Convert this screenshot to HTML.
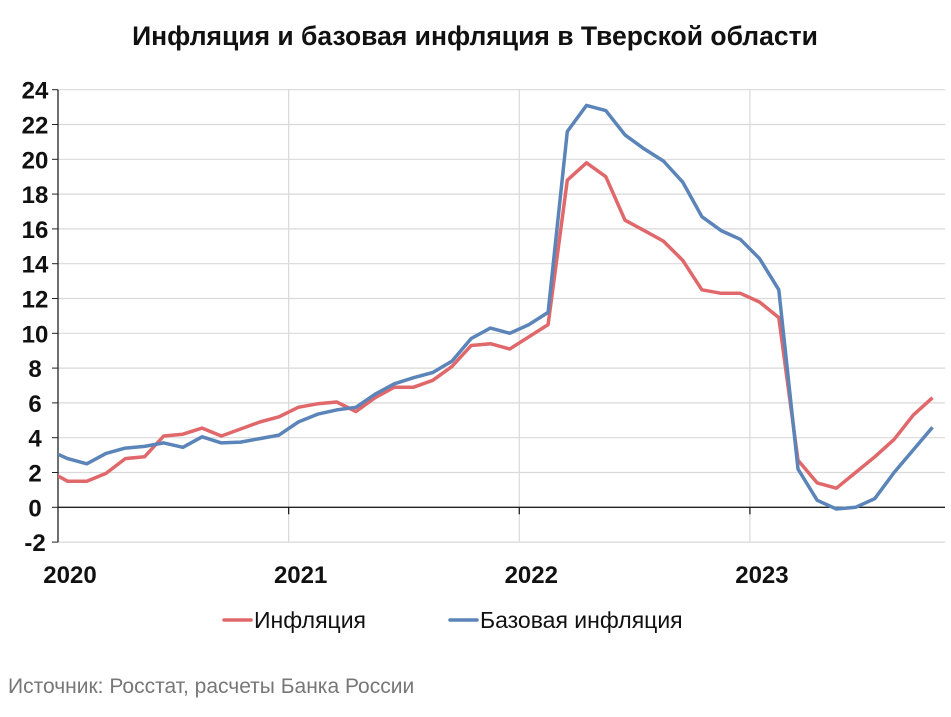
<!DOCTYPE html>
<html><head><meta charset="utf-8"><style>
html,body{margin:0;padding:0;background:#fff;}
body{width:951px;height:712px;overflow:hidden;font-family:"Liberation Sans","Noto Sans CJK SC",sans-serif;}
</style></head><body>
<svg id="chart" width="951" height="712" xmlns="http://www.w3.org/2000/svg" font-family="Liberation Sans, DejaVu Sans, sans-serif">
<text x="475" y="45" text-anchor="middle" font-size="26.5" font-weight="bold" fill="#111">Инфляция и базовая инфляция в Тверской области</text>
<defs><clipPath id="plotclip"><rect x="58" y="80" width="890" height="470"/></clipPath></defs>
<g id="grid"></g>
<g id="axes"></g>
<g id="series" clip-path="url(#plotclip)"></g>
<g>
<line x1="224" y1="620" x2="251" y2="620" stroke="#e0686b" stroke-width="3.5" stroke-linecap="round"/>
<text x="254" y="628" font-size="23" fill="#111">Инфляция</text>
<line x1="450" y1="620" x2="477" y2="620" stroke="#5b84b8" stroke-width="3.5" stroke-linecap="round"/>
<text x="480" y="628" font-size="23" fill="#111">Базовая инфляция</text>
</g>
<text x="8" y="693" font-size="21" fill="#777">Источник: Росстат, расчеты Банка России</text>
</svg>
<script>
// months starting Dec 2019 (first point clipped at axis) through Oct 2023
const years = ["2020","2021","2022","2023"];
const yTicks = [-2,0,2,4,6,8,10,12,14,16,18,20,22,24];
const inflation = [2.1,1.5,1.5,1.95,2.8,2.9,4.1,4.2,4.55,4.1,4.5,4.9,5.2,
  5.75,5.95,6.05,5.5,6.3,6.9,6.9,7.3,8.1,9.3,9.4,9.1,
  9.8,10.5,18.8,19.8,19.0,16.5,15.9,15.3,14.2,12.5,12.3,12.3,
  11.8,10.9,2.7,1.4,1.1,2.0,2.9,3.9,5.3,6.3];
const coreInflation = [3.3,2.8,2.5,3.1,3.4,3.5,3.7,3.45,4.05,3.7,3.75,3.95,4.15,
  4.9,5.35,5.6,5.75,6.5,7.1,7.45,7.75,8.4,9.7,10.3,10.0,
  10.5,11.2,21.6,23.1,22.8,21.4,20.6,19.9,18.7,16.7,15.9,15.4,
  14.3,12.5,2.2,0.4,-0.1,0.0,0.5,2.0,3.3,4.6];
const NS="http://www.w3.org/2000/svg";
const X0=58, monthW=19.22, Y0=507.3, unit=17.4;
function xOf(i){return X0+(i-0.5)*monthW;} // i=0 is Dec 2019
function yOf(v){return Y0-v*unit;}
function mk(tag,attrs,parent){const e=document.createElementNS(NS,tag);for(const k in attrs)e.setAttribute(k,attrs[k]);parent.appendChild(e);return e;}
const grid=document.getElementById('grid'), axes=document.getElementById('axes'), series=document.getElementById('series');
const xEnd=945;
yTicks.forEach(v=>{
  const y=yOf(v);
  if(v!==0){const g=mk('line',{x1:X0,x2:xEnd,y1:y,y2:y,stroke:'#d9d9d9','stroke-width':1.2},grid);
  
  }
  const t=mk('line',{x1:X0-6,x2:X0,y1:y,y2:y,stroke:'#222','stroke-width':1},axes);
  
  
  const l=mk('text',{x:35,y:y+9,'text-anchor':'middle','font-size':24,'font-weight':'bold',fill:'#111'},axes);
  l.textContent=v;
  
  
});
years.forEach((yr,k)=>{
  const x=X0+k*12*monthW;
  if(k>0){const g=mk('line',{x1:x,x2:x,y1:yOf(24),y2:yOf(-2),stroke:'#d9d9d9','stroke-width':1.2},grid);
  
  
  const t=mk('line',{x1:x,x2:x,y1:Y0,y2:Y0+7,stroke:'#222','stroke-width':1.3},axes);
  
  }
  const l=mk('text',{x:x+12,y:583,'text-anchor':'middle','font-size':24,'font-weight':'bold',fill:'#111'},axes);
  l.textContent=yr;
  
  
});
const ya=mk('line',{x1:X0,x2:X0,y1:yOf(24),y2:yOf(-2),stroke:'#222','stroke-width':1.3},axes);


const xa=mk('line',{x1:X0,x2:xEnd,y1:Y0,y2:Y0,stroke:'#222','stroke-width':1.3},axes);


function drawLine(vals,color,name){
  const pts=vals.map((v,i)=>xOf(i).toFixed(1)+','+yOf(v).toFixed(1)).join(' ');
  const p=mk('polyline',{points:pts,fill:'none',stroke:color,'stroke-width':3.5,'stroke-linejoin':'round'},series);
  
  
}
drawLine(inflation,'#e0686b','inflation-line');
drawLine(coreInflation,'#5b84b8','core-inflation-line');
</script>
</body></html>
